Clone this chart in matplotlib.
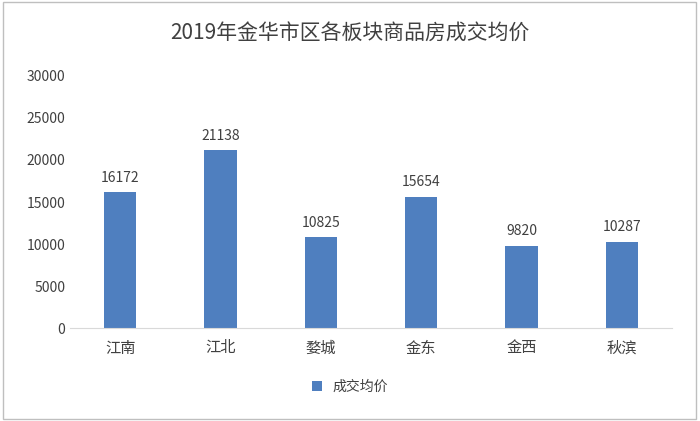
import matplotlib.pyplot as plt
from matplotlib.patches import Rectangle

plt.rcParams['font.family'] = ['Noto Sans CJK SC', 'DejaVu Sans']

districts = ['江南', '江北', '婺城', '金东', '金西', '秋滨']
prices = [16172, 21138, 10825, 15654, 9820, 10287]
yticks = [0, 5000, 10000, 15000, 20000, 25000, 30000]
bar_color = '#4f7fbf'

fig = plt.figure(figsize=(7, 4.21), dpi=100)
fig.patches.append(Rectangle((0.004, 0.005), 0.99, 0.99, transform=fig.transFigure,
                             fill=False, edgecolor='#bfbfbf', linewidth=1))
ax = fig.add_axes([0.1, 0.22, 0.86, 0.6])

x = range(len(districts))
bars = ax.bar(x, prices, width=0.32, color=bar_color, label='成交均价')
for xi, v in zip(x, prices):
    ax.text(xi, v + 900, str(v), ha='center', va='bottom', fontsize=10, color='#404040')

ax.set_ylim(0, 30000)
ax.set_xlim(-0.5, len(districts) - 0.5)
ax.set_yticks(yticks)
ax.set_xticks(list(x))
ax.set_xticklabels(districts, fontsize=11, color='#404040')
ax.tick_params(axis='y', labelsize=10, labelcolor='#404040', length=0)
ax.tick_params(axis='x', length=0, pad=8)
for s in ['top', 'right', 'left']:
    ax.spines[s].set_visible(False)
ax.spines['bottom'].set_color('#d9d9d9')

fig.suptitle('2019年金华市区各板块商品房成交均价', fontsize=15, color='#404040', y=0.945)
fig.legend(handles=[bars], loc='lower center', bbox_to_anchor=(0.5, 0.035), frameon=False,
           fontsize=10, handlelength=0.7, handleheight=0.7, labelcolor='#404040')

fig.savefig('out.png')
